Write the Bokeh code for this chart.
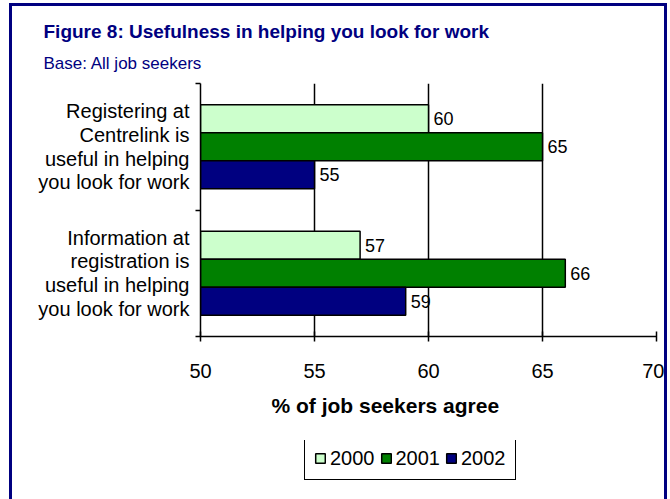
from bokeh.plotting import figure
from bokeh.layouts import column
from bokeh.models import (FixedTicker, Legend, LegendItem, ColumnDataSource, Range1d, Title)
from bokeh.transform import dodge
from bokeh.core.properties import value
from bokeh.embed import file_html
from bokeh.resources import INLINE

# ---- data ----
categories = ["Information at\nregistration is\nuseful in helping\nyou look for work",
              "Registering at\nCentrelink is\nuseful in helping\nyou look for work"]
years = ["2000", "2001", "2002"]
v2000 = [57, 60]
v2001 = [66, 65]
v2002 = [59, 55]
colors = ["#CCFFCC", "#008000", "#000080"]
x_ticks = [50, 55, 60, 65, 70]
title_text = "Figure 8: Usefulness in helping you look for work"
subtitle_text = "Base: All job seekers"
xlabel_text = "% of job seekers agree"

FONT = "Liberation Sans"
NAVY = "#000080"

pos = [i + 0.5 for i in range(len(categories))]
src = ColumnDataSource(dict(pos=pos, y2000=v2000, y2001=v2001, y2002=v2002,
                            t2000=[str(v) for v in v2000],
                            t2001=[str(v) for v in v2001],
                            t2002=[str(v) for v in v2002]))

p = figure(frame_width=456, frame_height=253, output_backend="svg", toolbar_location=None,
           x_range=Range1d(x_ticks[0], x_ticks[-1]), y_range=Range1d(0, len(categories)),
           min_border_left=188, min_border_right=8, min_border_top=77, min_border_bottom=104)
p.outline_line_color = None
p.background_fill_color = "white"
p.border_fill_color = "white"

bar_h = 0.222
for j, yr in enumerate(years):
    off = (1 - j) * bar_h
    p.hbar(y=dodge("pos", off, range=p.y_range), left=x_ticks[0], right="y" + yr,
           height=bar_h, fill_color=colors[j], line_color="black", line_width=1.5,
           source=src)
    p.text(x="y" + yr, y=dodge("pos", off, range=p.y_range), text="t" + yr, source=src,
           x_offset=5, text_baseline="middle", text_align="left",
           text_font=value(FONT), text_font_size="18px", text_color="black")

# grid
p.ygrid.grid_line_color = None
p.xgrid.ticker = FixedTicker(ticks=x_ticks)
p.xgrid.grid_line_color = "black"
p.xgrid.grid_line_width = 1.5

# x axis
xa = p.xaxis[0]
xa.ticker = FixedTicker(ticks=x_ticks)
xa.major_tick_in = 5
xa.major_tick_out = 5
xa.minor_tick_line_color = None
xa.axis_line_width = 1.5
xa.major_tick_line_width = 1.5
xa.major_label_text_font = FONT
xa.major_label_text_font_size = "20px"
xa.major_label_text_color = "black"
xa.major_label_standoff = 22

# y axis
ya = p.yaxis[0]
ya.ticker = FixedTicker(ticks=pos, minor_ticks=list(range(len(categories) + 1)))
ya.major_tick_in = 0
ya.major_tick_out = 0
ya.minor_tick_in = 0
ya.minor_tick_out = 5
ya.minor_tick_line_color = "black"
ya.minor_tick_line_width = 1.5
ya.axis_line_width = 1.5
ya.major_label_overrides = {pv: c for pv, c in zip(pos, categories)}
ya.major_label_text_font = FONT
ya.major_label_text_font_size = "20px"
ya.major_label_text_color = "black"
ya.major_label_text_line_height = 1.08
ya.major_label_text_align = "right"
ya.major_label_standoff = 6

# titles (p.title is outermost; added titles stack toward the frame)
p.title.text = title_text
p.title.align = "left"
p.title.offset = -157
p.title.text_font = FONT
p.title.text_font_size = "19px"
p.title.text_font_style = "bold"
p.title.text_color = NAVY
p.title.standoff = 0
p.add_layout(Title(text=subtitle_text, align="left", offset=-157, text_font=FONT,
                   text_font_size="17px", text_font_style="normal", text_color=NAVY,
                   standoff=21), "above")

p.add_layout(Title(text=xlabel_text, align="left", offset=71, text_font=FONT,
                   text_font_size="21px", text_font_style="bold", text_color="black",
                   standoff=23), "below")

# legend strip (second figure, legend drawn inside its frame)
lg = figure(width=652, height=59, output_backend="svg", toolbar_location=None,
            title=None, x_axis_type=None, y_axis_type=None, min_border=0,
            x_range=Range1d(0, 1), y_range=Range1d(0, 1))
lg.outline_line_color = None
lg.background_fill_color = "white"
lg.border_fill_color = "white"
lg.grid.grid_line_color = None
carriers = []
for j, yr in enumerate(years):
    r = lg.hbar(y="pos", left=x_ticks[0], right="y" + yr, height=bar_h,
                fill_color=colors[j], line_color="black", line_width=1.5,
                source=src, visible=False)
    carriers.append(r)

legend = Legend(items=[LegendItem(label=yr, renderers=[r]) for yr, r in zip(years, carriers)],
                orientation="horizontal", location=(104, 19),
                glyph_width=12, glyph_height=12, label_standoff=4, spacing=5,
                padding=9, margin=0, label_height=24,
                border_line_color="black", border_line_width=1.5, border_line_alpha=1,
                label_text_font=FONT, label_text_font_size="20px", label_text_color="black",
                background_fill_color="white", background_fill_alpha=1,
                inactive_fill_alpha=0)
lg.add_layout(legend, "center")

layout = column(p, lg, spacing=0,
                styles={"margin-left": "9px", "margin-top": "3px",
                        "border-left": "3px solid #000080", "border-top": "3px solid #000080",
                        "border-right": "3px solid #000080"})

open("out.html", "w").write(file_html(layout, INLINE))
